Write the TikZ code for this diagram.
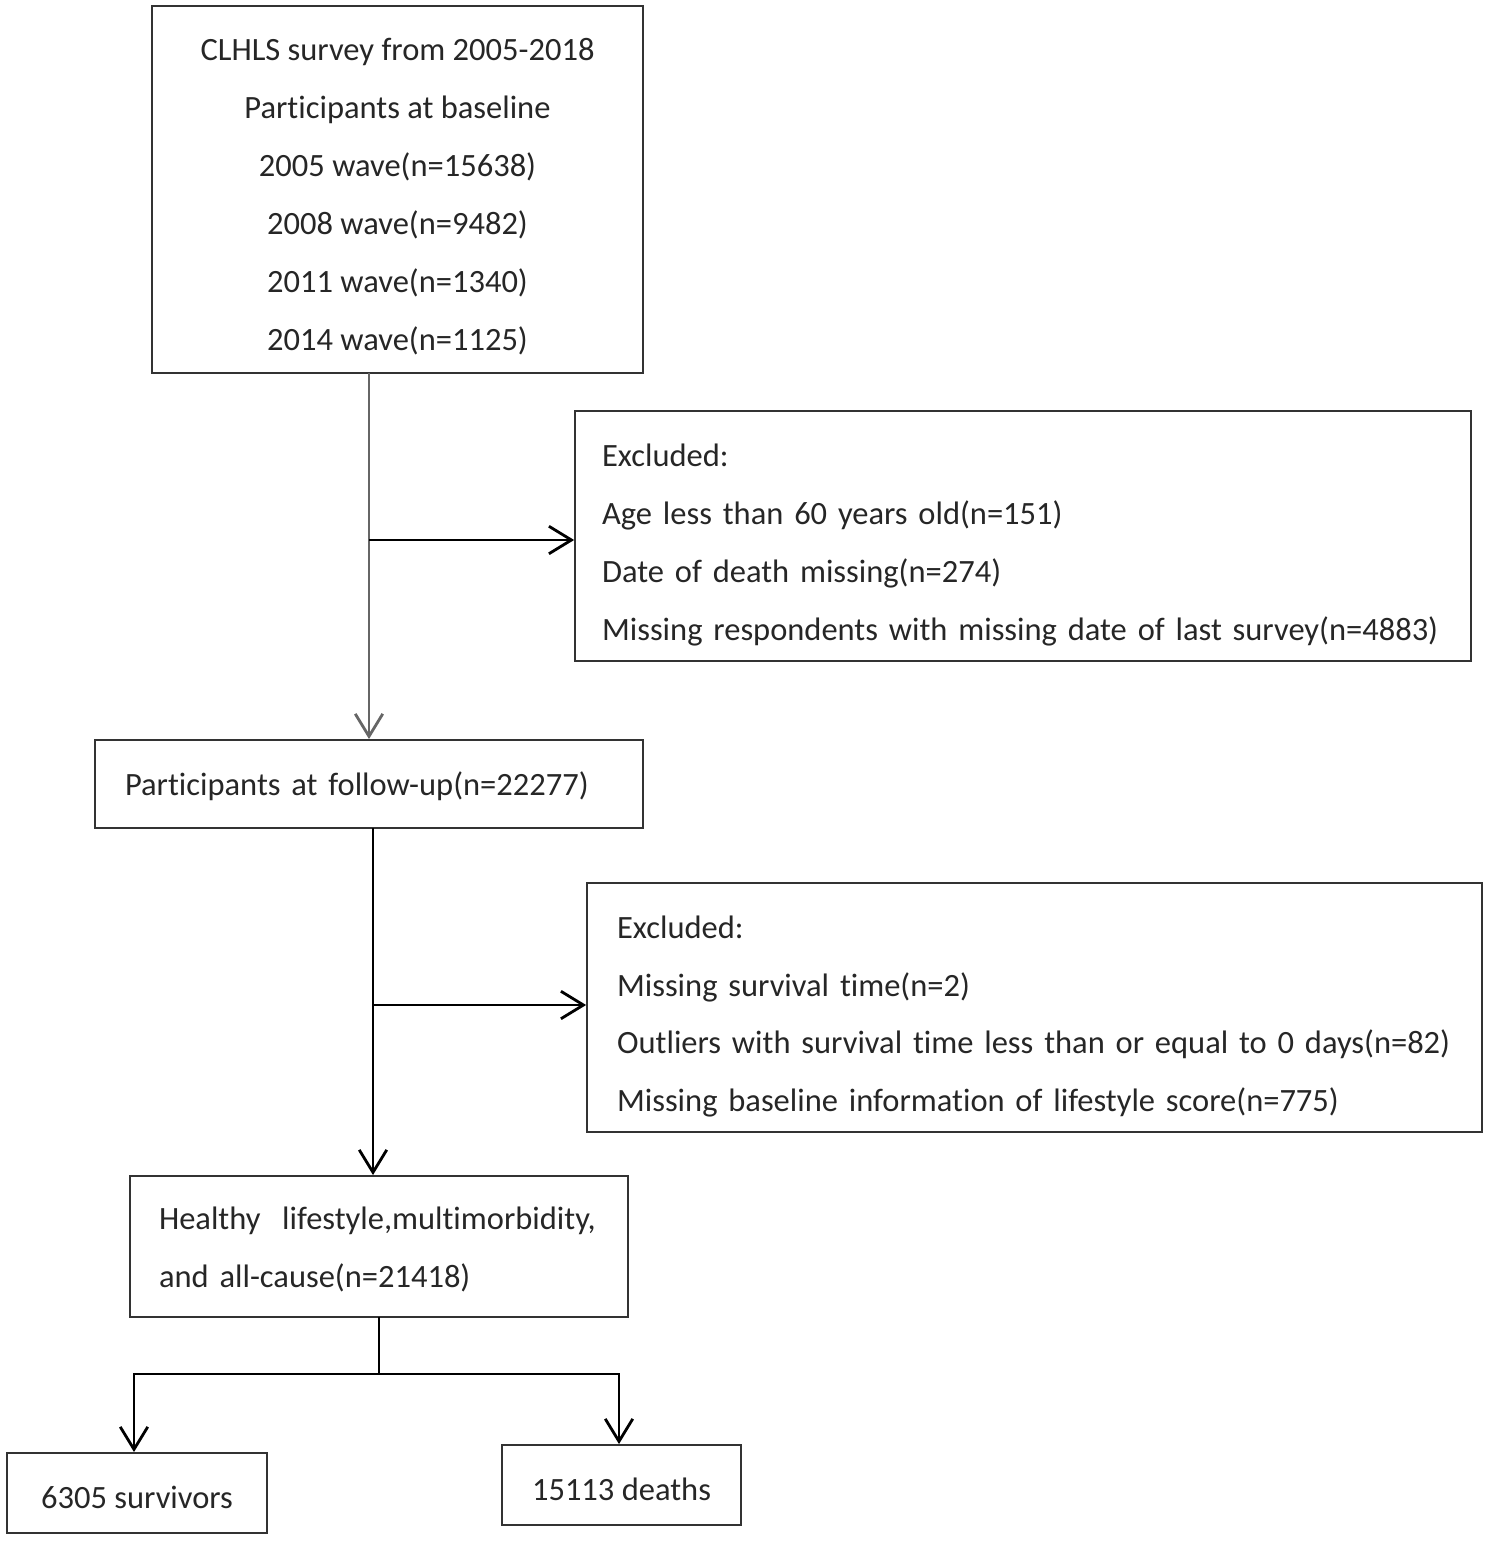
\documentclass[tikz,border=0pt]{standalone}
\usepackage{fontspec}
\setmainfont{Carlito}[Ligatures=NoCommon]
\usetikzlibrary{arrows.meta}
\begin{document}
\begin{tikzpicture}[x=0.02cm,y=-0.02cm,
  box/.style={draw=black!80,line width=1.1pt,inner sep=0pt},
  txt/.style={inner sep=0pt,font=\fontsize{18.5}{33}\selectfont,text=black!85},
  arr/.style={line width=1.6pt,-{Straight Barb[length=0.45cm,width=0.55cm,line width=1.6pt]}},
  thinarr/.style={draw=black!60,line width=0.8pt,-{Straight Barb[length=0.45cm,width=0.55cm,line width=1.6pt]}}]
\useasboundingbox (0,0) rectangle (1489,1541);
\node[box,minimum width=9.82cm,minimum height=7.34cm] (b1) at (397.5,189.5) {};
\node[txt,align=center] (b1t) at ([yshift=-0.14cm]b1.center)
 {CLHLS survey from 2005-2018\\Participants at baseline\\2005 wave(n=15638)\\2008 wave(n=9482)\\2011 wave(n=1340)\\2014 wave(n=1125)};
\node[box,minimum width=17.92cm,minimum height=5.0cm] (ex1) at (1023,536) {};
\node[txt,text width=16.84cm,align=left] (ex1t) at ([yshift=-0.18cm]ex1.center)
 {Excluded:\\Age less than 60 years old(n=151)\\Date of death missing(n=274)\\Missing respondents with missing date of last survey(n=4883)};
\node[box,minimum width=10.96cm,minimum height=1.76cm] (fu) at (369,784) {};
\node[txt,text width=9.76cm,align=left] (fut) at ([yshift=-0.04cm]fu.center)
 {Participants at follow-up(n=22277)};
\node[box,minimum width=17.9cm,minimum height=4.98cm] (ex2) at (1034.5,1007.5) {};
\node[txt,text width=16.7cm,align=left] (ex2t) at ([yshift=-0.18cm]ex2.center)
 {Excluded:\\Missing survival time(n=2)\\Outliers with survival time less than or equal to 0 days(n=82)\\Missing baseline information of lifestyle score(n=775)};
\node[box,minimum width=9.96cm,minimum height=2.82cm] (hl) at (379,1246.5) {};
\node[txt,text width=8.8cm,align=left] (hlt) at ([yshift=-0.06cm]hl.center)
 {Healthy\ \ lifestyle,multimorbidity,\\and all-cause(n=21418)};
\node[box,minimum width=5.2cm,minimum height=1.6cm] (sv) at (137,1493) {};
\node[txt] (svt) at ([yshift=-0.08cm]sv.center) {6305 survivors};
\node[box,minimum width=4.78cm,minimum height=1.6cm] (dt) at (621.5,1485) {};
\node[txt] (dtt) at ([yshift=-0.08cm]dt.center) {15113 deaths};
\coordinate (a1) at (369,373);
\coordinate (j1) at (369,540);
\coordinate (a2) at (373,828);
\coordinate (j2) at (373,1005);
\coordinate (a3) at (379,1317);
\coordinate (j3) at (379,1374);
\coordinate (l3) at (134,1374);
\coordinate (r3) at (619,1374);
\draw[thinarr] (a1) -- (a1 |- fu.north);
\draw[arr] (j1) -- (ex1.west |- j1);
\draw[arr] (a2) -- (a2 |- hl.north);
\draw[arr] (j2) -- (ex2.west |- j2);
\draw[line width=1.6pt] (a3) -- (j3);
\draw[arr] (j3) -- (l3) -- (l3 |- sv.north);
\draw[arr] (j3) -- (r3) -- (r3 |- dt.north);
\end{tikzpicture}
\end{document}
